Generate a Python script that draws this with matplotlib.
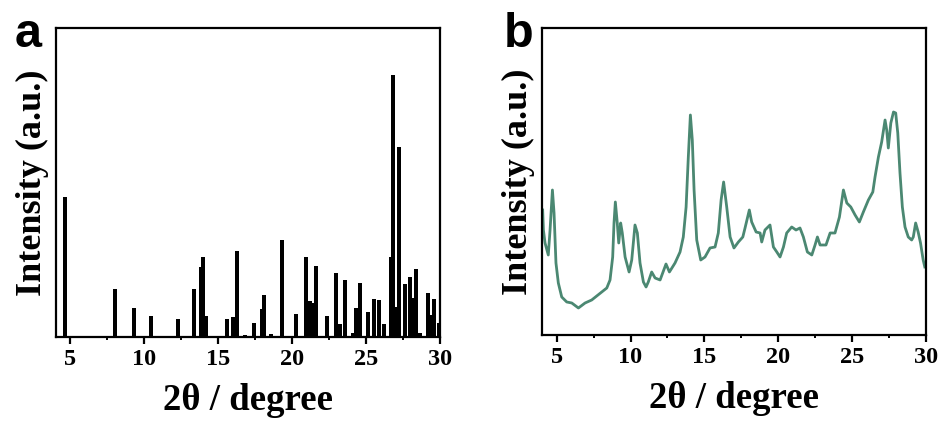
import matplotlib
matplotlib.use("Agg")
import matplotlib.pyplot as plt
from matplotlib.ticker import MultipleLocator

# ---- Panel a: reference stick pattern (relative intensity, max = 100) ----
peak_pos = [4.61, 8.01, 9.27, 10.41, 12.26, 13.34, 13.82, 13.97, 14.15, 15.58,
            15.96, 16.25, 16.77, 17.41, 17.92, 18.10, 18.53, 19.27, 20.22, 20.90,
            21.20, 21.37, 21.62, 22.30, 22.91, 23.20, 23.52, 24.06, 24.28, 24.56,
            25.08, 25.53, 25.87, 26.18, 26.65, 26.82, 27.00, 27.20, 27.63, 27.92,
            28.17, 28.37, 28.64, 29.14, 29.34, 29.57, 29.88]
peak_int = [53.4, 18.2, 11.0, 8.0, 6.8, 18.2, 26.7, 30.5, 8.0, 6.9,
            7.5, 32.7, 0.8, 5.5, 10.7, 16.0, 1.1, 37.0, 8.7, 30.6,
            13.7, 12.9, 27.1, 8.0, 24.4, 5.0, 21.8, 1.5, 11.0, 20.5,
            9.4, 14.4, 14.1, 5.0, 30.5, 100.0, 11.5, 72.4, 20.1, 22.8,
            14.8, 25.8, 1.5, 16.9, 8.4, 14.4, 5.2]

# ---- Panel b: measured pattern (a.u.) ----
scan_2theta = [4.05, 4.10, 4.21, 4.43, 4.55, 4.71, 4.82, 4.95, 5.11, 5.34,
               5.68, 6.02, 6.47, 6.92, 7.37, 7.71, 8.05, 8.39, 8.61, 8.79,
               8.88, 8.97, 9.10, 9.20, 9.33, 9.44, 9.63, 9.90, 10.08, 10.30,
               10.46, 10.64, 10.87, 11.05, 11.20, 11.43, 11.66, 12.00, 12.40, 12.63,
               13.01, 13.35, 13.57, 13.76, 13.91, 14.05, 14.18, 14.30, 14.48, 14.75,
               15.04, 15.38, 15.72, 15.94, 16.13, 16.30, 16.51, 16.74, 17.00, 17.30,
               17.60, 17.75, 18.04, 18.20, 18.50, 18.77, 18.88, 19.10, 19.44, 19.67,
               19.90, 20.12, 20.35, 20.57, 20.91, 21.20, 21.47, 21.70, 21.97, 22.27,
               22.49, 22.65, 22.83, 23.23, 23.51, 23.84, 24.14, 24.41, 24.64, 24.91,
               25.20, 25.49, 25.76, 26.10, 26.40, 26.55, 26.78, 27.00, 27.23, 27.34,
               27.45, 27.62, 27.80, 27.95, 28.09, 28.24, 28.40, 28.58, 28.80, 29.03,
               29.14, 29.30, 29.47, 29.63, 29.81, 29.92]
scan_int = [125, 105, 92, 80, 105, 145, 122, 72, 52, 38,
            33, 32, 27, 32, 35, 39, 43, 47, 55, 78,
            112, 133, 112, 92, 112, 102, 78, 63, 75, 110,
            102, 72, 53, 48, 53, 63, 57, 55, 71, 63,
            72, 83, 98, 128, 178, 220, 195, 145, 95, 75,
            78, 87, 88, 102, 135, 153, 128, 98, 87, 93,
            98, 107, 125, 113, 103, 102, 93, 105, 110, 88,
            83, 78, 88, 102, 108, 105, 107, 98, 83, 80,
            90, 98, 90, 90, 102, 102, 118, 145, 132, 128,
            120, 113, 123, 135, 143, 158, 178, 193, 215, 205,
            187, 212, 223, 222, 202, 162, 128, 108, 98, 95,
            98, 112, 103, 92, 75, 68]

xticks = [5, 10, 15, 20, 25, 30]
xlabel = "2θ / degree"
ylabel = "Intensity (a.u.)"

serif = ["Liberation Serif", "DejaVu Serif"]

fig = plt.figure(figsize=(9.42, 4.25), dpi=100)
ax1 = fig.add_axes([0.0591, 0.2071, 0.4085, 0.7270])
ax2 = fig.add_axes([0.5753, 0.2118, 0.4077, 0.7223])

ax1.bar(peak_pos, peak_int, width=0.27, color="black", linewidth=0)
ax1.set_ylim(0, 117.9)

ax2.plot(scan_2theta, scan_int, color="#4b8872", linewidth=2.0)
ax2.set_ylim(0, 307)

for ax in (ax1, ax2):
    ax.set_xlim(4, 30)
    ax.set_xticks(xticks)
    ax.xaxis.set_minor_locator(MultipleLocator(2.5))
    ax.set_yticks([])
    for s in ax.spines.values():
        s.set_linewidth(1.6)
        s.set_color("black")
    ax.tick_params(axis="x", which="major", direction="out", length=5, width=1.6, pad=4)
    ax.tick_params(axis="x", which="minor", direction="out", length=2.5, width=1.4)
    for lab in ax.get_xticklabels():
        lab.set_fontfamily(serif)
        lab.set_fontweight("bold")
        lab.set_fontsize(17.5)
    ax.set_xlabel(xlabel, fontfamily=serif, fontweight="bold", fontsize=26.5, labelpad=9)
    ax.set_ylabel(ylabel, fontfamily=serif, fontweight="bold", fontsize=26, labelpad=5)

fig.text(0.016, 0.890, "a", fontfamily=["Liberation Sans", "DejaVu Sans"],
         fontweight="bold", fontsize=35)
fig.text(0.535, 0.890, "b", fontfamily=["Liberation Sans", "DejaVu Sans"],
         fontweight="bold", fontsize=35)

fig.savefig("out.png", dpi=100)
